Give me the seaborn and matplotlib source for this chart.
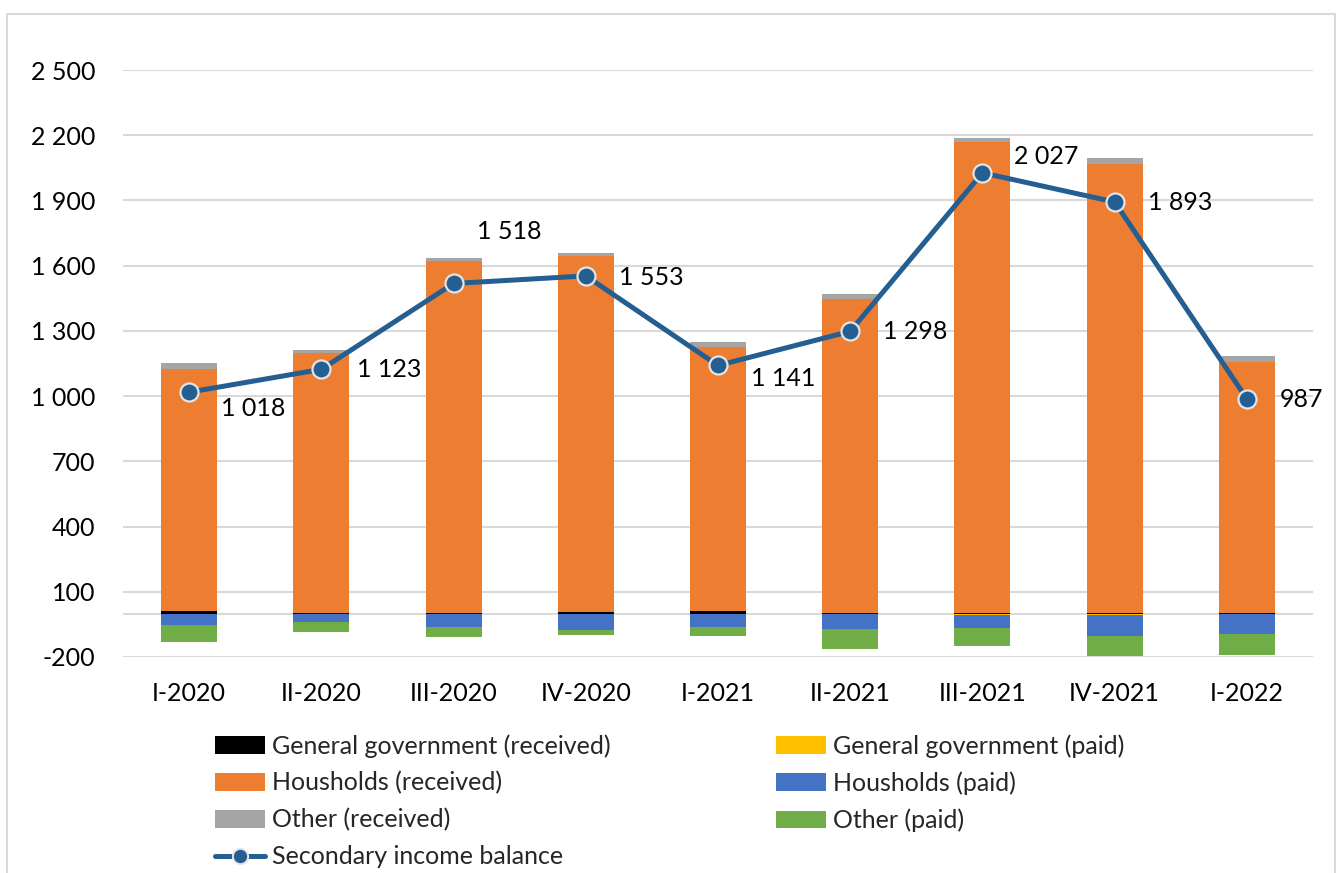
import numpy as np
import pandas as pd
import matplotlib
matplotlib.use("Agg")
import matplotlib.pyplot as plt
import seaborn as sns
from matplotlib.patches import Patch, Rectangle
from matplotlib.lines import Line2D
from matplotlib.ticker import FuncFormatter

quarters = ['I-2020', 'II-2020', 'III-2020', 'IV-2020', 'I-2021',
            'II-2021', 'III-2021', 'IV-2021', 'I-2022']
gg_received = [10, 3, 2, 5, 10, 1, 1, 1, 1]
hh_received = [1115, 1194, 1618, 1638, 1215, 1446, 2168, 2068, 1157]
other_received = [26, 15, 15, 15, 23, 23, 17, 28, 28]
gg_paid = [0, 0, 0, 0, 0, -1, -5, -5, 0]
hh_paid = [-55, -40, -60, -75, -61, -68, -63, -97, -94]
other_paid = [-74, -45, -48, -23, -41, -92, -82, -94, -98]
balance = [1018, 1123, 1518, 1553, 1141, 1298, 2027, 1893, 987]
yticks = [-200, 100, 400, 700, 1000, 1300, 1600, 1900, 2200, 2500]

# label offsets in pixels (x, y) from each point
label_offsets = [(32, -16), (36, 0), (23, 52), (33, -2), (33, -13),
                 (33, 0), (32, 16), (33, -1), (33, -1)]

colors = {
    'General government (received)': '#000000',
    'General government (paid)': '#FFC000',
    'Housholds (received)': '#ED7D31',
    'Housholds (paid)': '#4472C4',
    'Other (received)': '#A5A5A5',
    'Other (paid)': '#70AD47',
}
line_color = '#255E91'
grid_color = '#D9D9D9'

sns.set_theme(style="white")
plt.rcParams['font.family'] = ['Lato', 'DejaVu Sans']
FS = 18

fig = plt.figure(figsize=(13.42, 8.73), dpi=100)
ax = fig.add_axes([123 / 1342, 1 - 657 / 873, (1313 - 123) / 1342, (657 - 70) / 873])

gg_r = np.array(gg_received)
hh_r = np.array(hh_received)
gg_p = np.array(gg_paid)
hh_p = np.array(hh_paid)

stacks = [
    ('General government (received)', gg_received, np.zeros(9)),
    ('Housholds (received)', hh_received, gg_r),
    ('Other (received)', other_received, gg_r + hh_r),
    ('General government (paid)', gg_paid, np.zeros(9)),
    ('Housholds (paid)', hh_paid, gg_p),
    ('Other (paid)', other_paid, gg_p + hh_p),
]

for t in yticks:
    ax.axhline(t, color=grid_color, lw=1.5, zorder=0)
ax.axhline(0, color=grid_color, lw=1.5, zorder=0)

for name, vals, bottom in stacks:
    sns.barplot(x=quarters, y=vals, bottom=bottom, color=colors[name],
                width=0.424, saturation=1, linewidth=0, ax=ax, zorder=2)

sns.pointplot(x=quarters, y=balance, color=line_color, errorbar=None,
              markers='o', linewidth=3.6, markersize=13,
              markeredgecolor='#E4E4E4', markeredgewidth=1.6, ax=ax)

for i, v in enumerate(balance):
    s = f"{v:,}".replace(",", " ")
    dx, dy = label_offsets[i]
    ax.annotate(s, (i, v), xytext=(dx, dy), textcoords='offset pixels',
                ha='left', va='center', fontsize=FS, color='black', zorder=5)

ax.set_xlim(-0.5, 8.5)
ax.set_ylim(-200, 2500)
ax.set_yticks(yticks)
ax.yaxis.set_major_formatter(FuncFormatter(lambda v, p: f"{int(v):,}".replace(",", " ")))
ax.tick_params(axis='y', length=0, pad=20, labelsize=FS, labelcolor='black')
ax.tick_params(axis='x', length=0, pad=18, labelsize=FS, labelcolor='black')
ax.set_xlabel('')
ax.set_ylabel('')
for sp in ax.spines.values():
    sp.set_visible(False)

order = ['General government (received)', 'Housholds (received)', 'Other (received)']
order2 = ['General government (paid)', 'Housholds (paid)', 'Other (paid)']
handles = [Patch(facecolor=colors[n], edgecolor='none', label=n) for n in order]
handles.append(Line2D([0], [0], color=line_color, lw=3.6, marker='o', markersize=11,
                      markeredgecolor='#E4E4E4', markeredgewidth=1.4,
                      label='Secondary income balance'))
handles += [Patch(facecolor=colors[n], edgecolor='none', label=n) for n in order2]

fig.legend(handles=handles, loc='upper left', ncol=2,
           bbox_to_anchor=(215 / 1342, 1 - 734 / 873), frameon=False,
           fontsize=FS, handlelength=2.0, handleheight=0.7, handletextpad=0.28,
           labelspacing=0.55, columnspacing=6.6, borderaxespad=0, borderpad=0)

fig.patches.append(Rectangle((7 / 1342, -0.1), (1335 - 7) / 1342, 1.1 - 14 / 873,
                             transform=fig.transFigure, fill=False,
                             edgecolor=grid_color, lw=1.5))

fig.savefig('out.png', dpi=100)
